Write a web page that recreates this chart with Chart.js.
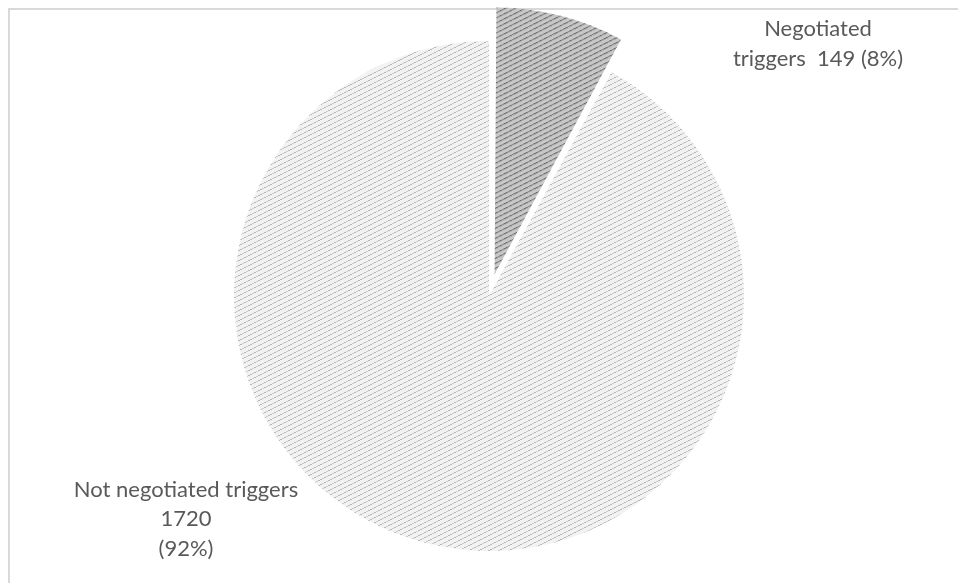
<!DOCTYPE html>
<html>
<head>
<meta charset="utf-8">
<script src="https://cdn.jsdelivr.net/npm/chart.js"></script>
<style>
	body { margin: 0; background: #ffffff; }
	#wrap { position: relative; width: 958px; height: 583px; overflow: hidden; }
	#frame { position: absolute; left: 8px; top: 8px; width: 1000px; height: 1000px;
		border-left: 2px solid #d9d9d9; border-top: 2px solid #d9d9d9; }
	canvas { position: absolute; left: 0; top: 0; }
</style>
</head>
<body>
<div id="wrap">
	<div id="frame"></div>
	<canvas id="TriggersPieChart"></canvas>
</div>
<script>
const categories = ['Negotiated triggers', 'Not negotiated triggers']
const counts = [149, 1720]
const shares = ['8%', '92%']

// hatched fills like the excel patterns
const makePattern = function (bg, fg, mid) {
	let c = document.createElement('canvas')
	c.width = 10
	c.height = 5
	let x = c.getContext('2d')
	x.fillStyle = bg
	x.fillRect(0, 0, 10, 5)
	for (let k = 0; k < 5; k++) {
		x.fillStyle = (k % 2 == 0) ? fg : mid
		x.fillRect(2 * k, 4 - k, 2, 1)
	}
	return x.createPattern(c, 'repeat')
}

const darkFill = makePattern('#c8c8c8', '#505050', '#7a7a7a')
const lightFill = makePattern('#f2f2f2', '#b8b8b8', '#cdcdcd')

const labelPlugin = {
	id: 'sliceLabels',
	afterDatasetsDraw(chart) {
		const ctx = chart.ctx
		const arc = chart.getDatasetMeta(0).data[1]
		const cx = arc.x
		const cy = arc.y
		ctx.save()
		ctx.fillStyle = '#595959'
		ctx.font = '22px Lato'
		ctx.textAlign = 'center'
		ctx.textBaseline = 'middle'
		ctx.fillText('Negotiated', cx + 329, cy - 267)
		ctx.fillText('triggers  ' + counts[0] + ' (' + shares[0] + ')', cx + 329, cy - 237)
		ctx.fillText('Not negotiated triggers', cx - 303, cy + 194)
		ctx.fillText(String(counts[1]), cx - 303, cy + 223)
		ctx.fillText('(' + shares[1] + ')', cx - 303, cy + 253)
		ctx.restore()
	}
}

const data = {
	labels: categories,
	datasets: [{
		data: counts,
		backgroundColor: [darkFill, lightFill],
		borderWidth: 0,
		offset: [90, 0],
	}]
};

const config = {
	type: 'pie',
	data: data,
	options: {
		responsive: false,
		animation: false,
		radius: 255,
		layout: { padding: { left: 20, right: 0, top: 9, bottom: 0 } },
		plugins: {
			legend: { display: false },
			tooltip: { enabled: false }
		}
	},
	plugins: [labelPlugin]
};

const canvas = document.getElementById('TriggersPieChart')
canvas.width = 958
canvas.height = 583
const TriggersPieChart = new Chart(canvas, config);
</script>
</body>
</html>
